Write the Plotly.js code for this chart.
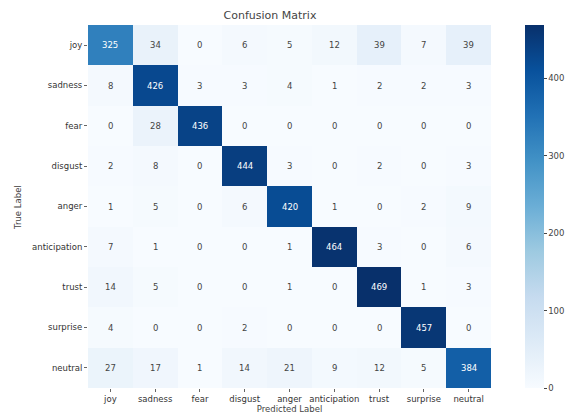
<!DOCTYPE html>
<html>
<head>
<meta charset="utf-8">
<script src="https://cdn.plot.ly/plotly-3.0.1.min.js"></script>
<style>
  html, body { margin: 0; padding: 0; background: #ffffff; }
  #chart { width: 576px; height: 416px; }
</style>
</head>
<body>
<div id="chart"></div>
<script>
// Emotion classes (rows = true label, columns = predicted label)
const labels = ["joy", "sadness", "fear", "disgust", "anger", "anticipation", "trust", "surprise", "neutral"];

// Confusion matrix counts, one array per true class
const joy          = [325, 34, 0, 6, 5, 12, 39, 7, 39];
const sadness      = [8, 426, 3, 3, 4, 1, 2, 2, 3];
const fear         = [0, 28, 436, 0, 0, 0, 0, 0, 0];
const disgust      = [2, 8, 0, 444, 3, 0, 2, 0, 3];
const anger        = [1, 5, 0, 6, 420, 1, 0, 2, 9];
const anticipation = [7, 1, 0, 0, 1, 464, 3, 0, 6];
const trust        = [14, 5, 0, 0, 1, 0, 469, 1, 3];
const surprise     = [4, 0, 0, 2, 0, 0, 0, 457, 0];
const neutral      = [27, 17, 1, 14, 21, 9, 12, 5, 384];

const matrix = [joy, sadness, fear, disgust, anger, anticipation, trust, surprise, neutral];

const colorbarTicks = [0, 100, 200, 300, 400];

// Matplotlib "Blues" colormap
const blues = [
  [0.0, "#f7fbff"], [0.125, "#deebf7"], [0.25, "#c6dbef"], [0.375, "#9ecae1"],
  [0.5, "#6baed6"], [0.625, "#4292c6"], [0.75, "#2171b5"], [0.875, "#08519c"], [1.0, "#08306b"]
];

let zmax = 0;
matrix.forEach(r => r.forEach(v => { if (v > zmax) zmax = v; }));

// Plot area in pixels
const M = { l: 88, r: 68, t: 25, b: 28 };
const W = 576, H = 416;
const plotW = W - M.l - M.r, plotH = H - M.t - M.b;

const trace = {
  type: "heatmap",
  z: matrix,
  x: labels,
  y: labels,
  zmin: 0,
  zmax: zmax,
  colorscale: blues,
  hoverinfo: "x+y+z",
  colorbar: {
    x: (543 - M.l) / plotW, xanchor: "left", xpad: 0, ypad: 0,
    thickness: 19, thicknessmode: "pixels",
    len: 1, lenmode: "fraction", y: 0.5, yanchor: "middle",
    outlinewidth: 0,
    ticks: "outside", ticklen: 3, tickwidth: 1, tickcolor: "#444",
    tickvals: colorbarTicks,
    tickfont: { family: "DejaVu Sans", size: 8.5, color: "#444" }
  }
};

// Cell labels: white on dark cells, dark grey on light ones
const annotations = [];
matrix.forEach((row, i) => {
  row.forEach((v, j) => {
    annotations.push({
      x: labels[j], y: labels[i], xref: "x", yref: "y",
      text: String(v), showarrow: false,
      font: { family: "DejaVu Sans", size: 8.5, color: v > zmax * 0.5 ? "#ffffff" : "#444444" }
    });
  });
});

// Rotated y-axis title
annotations.push({
  text: "True Label", xref: "paper", yref: "paper",
  x: (15 - M.l) / plotW, y: (H - M.b - 207) / plotH,
  xanchor: "center", yanchor: "middle",
  showarrow: false, textangle: -90,
  font: { family: "DejaVu Sans", size: 8.5, color: "#444" }
});

const layout = {
  width: W, height: H,
  margin: { l: M.l, r: M.r, t: M.t, b: M.b, pad: 0 },
  paper_bgcolor: "#ffffff", plot_bgcolor: "#ffffff",
  font: { family: "DejaVu Sans", color: "#444" },
  title: {
    text: "Confusion Matrix",
    x: 270 / W, xref: "container", xanchor: "center",
    y: 1 - 15 / H, yref: "container", yanchor: "middle",
    font: { family: "DejaVu Sans", size: 11, color: "#444" }
  },
  xaxis: {
    type: "category", side: "bottom",
    ticks: "outside", ticklen: 3, tickcolor: "#666",
    tickfont: { family: "DejaVu Sans", size: 8.5, color: "#333" },
    showgrid: false, zeroline: false, showline: false,
    title: { text: "Predicted Label", standoff: 2, font: { family: "DejaVu Sans", size: 8.5, color: "#444" } }
  },
  yaxis: {
    type: "category", autorange: "reversed",
    ticks: "outside", ticklen: 3, tickcolor: "#666",
    tickfont: { family: "DejaVu Sans", size: 8.5, color: "#333" },
    showgrid: false, zeroline: false, showline: false
  },
  annotations: annotations,
  showlegend: false
};

Plotly.newPlot("chart", [trace], layout, { displayModeBar: false, staticPlot: true });
</script>
</body>
</html>
